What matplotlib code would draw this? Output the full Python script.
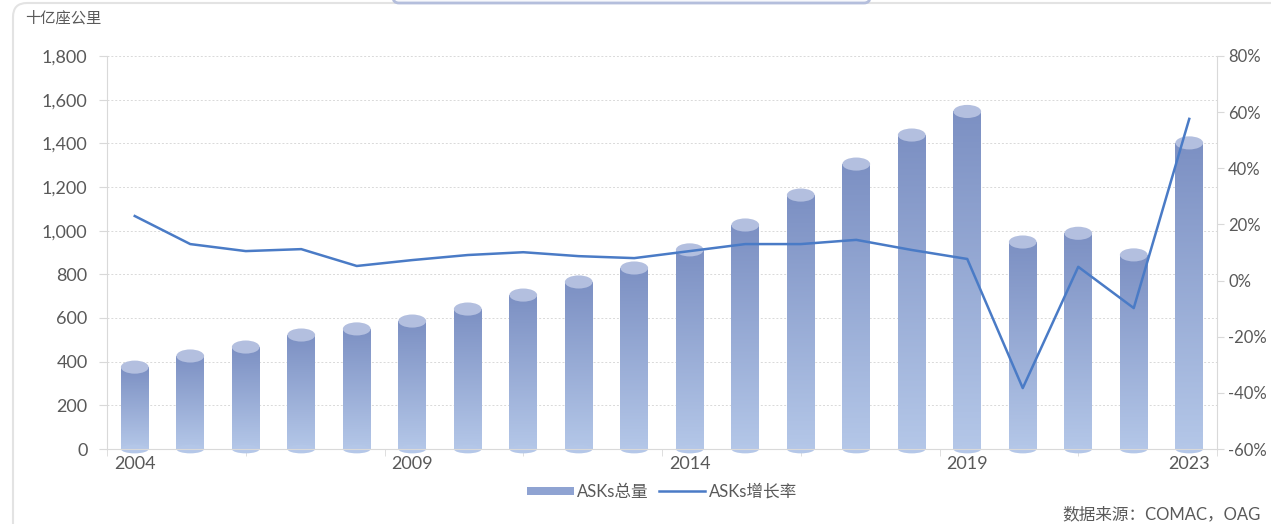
import numpy as np
import matplotlib
matplotlib.use("Agg")
import matplotlib.pyplot as plt
from matplotlib.patches import Ellipse, FancyBboxPatch, Rectangle
from matplotlib.colors import LinearSegmentedColormap
from matplotlib.lines import Line2D
from matplotlib.legend_handler import HandlerPatch

plt.rcParams['font.family'] = ['Lato', 'Noto Sans CJK SC', 'DejaVu Sans']

# data
years = list(range(2004, 2024))
asks = [375, 426, 467, 522, 550, 586, 641, 705, 765, 829, 912, 1026, 1163, 1305,
        1438, 1546, 948, 988, 889, 1402]
growth = [23.0, 13.0, 10.5, 11.2, 5.2, 7.3, 9.1, 10.1, 8.7, 8.0, 10.5, 13.0, 13.0,
          14.5, 10.9, 7.7, -38.3, 4.9, -9.8, 57.6]
xlabels = {2004: '2004', 2009: '2009', 2014: '2014', 2019: '2019', 2023: '2023'}

grey = '#595959'
line_col = '#4a7bc6'
cmap = LinearSegmentedColormap.from_list('cyl', ['#7c90c3', '#b4c7e8'])

fig = plt.figure(figsize=(12.71, 5.24), dpi=100)
W, H = 1271, 524
ax = fig.add_axes([107 / W, 1 - 449 / H, (1217 - 107) / W, (449 - 56) / H])

x = np.arange(len(years))
bw = 0.5
bars = ax.bar(x, asks, width=bw, color='none', edgecolor='none', zorder=2)
ax.set_xlim(-0.5, len(years) - 0.5)
ax.set_ylim(0, 1800)

grad = np.linspace(0, 1, 256).reshape(-1, 1)
eh = 60  # ellipse height in data units
for b in bars:
    x0 = b.get_x()
    h = b.get_height()
    im = ax.imshow(grad, cmap=cmap, aspect='auto', extent=[x0, x0 + bw, 0, h],
                   origin='upper', zorder=2)
    im.set_clip_path(b)
    bot = Ellipse((x0 + bw / 2, 0), bw, 40, facecolor='#b4c7e8', edgecolor='none',
                  zorder=2, clip_on=False)
    ax.add_patch(bot)
    top = Ellipse((x0 + bw / 2, h), bw, eh, facecolor='#b3bfdf', edgecolor='none', zorder=3)
    ax.add_patch(top)
ax.set_xlim(-0.5, len(years) - 0.5)

ax.set_yticks(np.arange(0, 1801, 200))
ax.set_yticklabels([f'{v:,}' for v in range(0, 1801, 200)])
ax.grid(axis='y', color='#d9d9d9', linestyle=(0, (2, 2)), linewidth=0.7)
ax.set_axisbelow(True)
ax.set_xticks([years.index(k) for k in xlabels])
ax.set_xticklabels(list(xlabels.values()))
ax.set_xticks(np.arange(-0.5, len(years), 2.5), minor=True)
ax.tick_params(axis='x', which='major', length=0, labelsize=13, colors=grey, pad=5)
ax.tick_params(axis='x', which='minor', length=5, color='#d9d9d9')
ax.tick_params(axis='y', length=6, color='#d9d9d9', labelsize=13, colors=grey, pad=8)
for s in ['top', 'right']:
    ax.spines[s].set_visible(False)
for s in ['left', 'bottom']:
    ax.spines[s].set_color('#d9d9d9')

ax2 = ax.twinx()
ax2.plot(x, growth, color=line_col, linewidth=1.8, zorder=5)
ax2.set_ylim(-60, 80)
ax2.set_yticks(np.arange(-60, 81, 20))
ax2.set_yticklabels([f'{v}%' for v in range(-60, 81, 20)])
ax2.tick_params(axis='y', length=5, color='#d9d9d9', labelsize=12, colors=grey, pad=3)
for s in ['top', 'left', 'bottom']:
    ax2.spines[s].set_visible(False)
ax2.spines['right'].set_color('#d9d9d9')

fig.text(25 / W, 1 - 18 / H, '十亿座公里', fontsize=11, color=grey, va='center')
fig.text(1062 / W, 1 - 514 / H, '数据来源：COMAC，OAG', fontsize=12, color=grey,
         va='center')


class GradHandler(HandlerPatch):
    def create_artists(self, legend, orig_handle, xdescent, ydescent, width, height,
                       fontsize, trans):
        r = Rectangle((-xdescent, -ydescent + height * 0.15), width, height * 0.7,
                      facecolor='#8fa3d2', edgecolor='none', transform=trans)
        return [r]


h1 = Rectangle((0, 0), 1, 1, facecolor='#8fa3d2')
h2 = Line2D([], [], color=line_col, linewidth=1.8)
fig.legend([h1, h2], ['ASKs总量', 'ASKs增长率'], loc='center',
           bbox_to_anchor=(662 / W, 1 - 492 / H), ncol=2, frameon=False,
           fontsize=12, labelcolor=grey, handlelength=2.8, handletextpad=0.2,
           columnspacing=0.6, handler_map={Rectangle: GradHandler()})

# card border and the top box
card = FancyBboxPatch((13, -20), W + 40, H + 17, boxstyle='round,pad=0,rounding_size=14',
                      transform=None, facecolor='none', edgecolor='#e3e3e3',
                      linewidth=1.5, zorder=0)
fig.patches.append(card)
topbox = FancyBboxPatch((393, H - 3), 477, 20, boxstyle='round,pad=0,rounding_size=6',
                        transform=None, facecolor='#f7f8fc', edgecolor='#b4bedc',
                        linewidth=2, zorder=0)
fig.patches.append(topbox)

fig.savefig('out.png', dpi=100)
